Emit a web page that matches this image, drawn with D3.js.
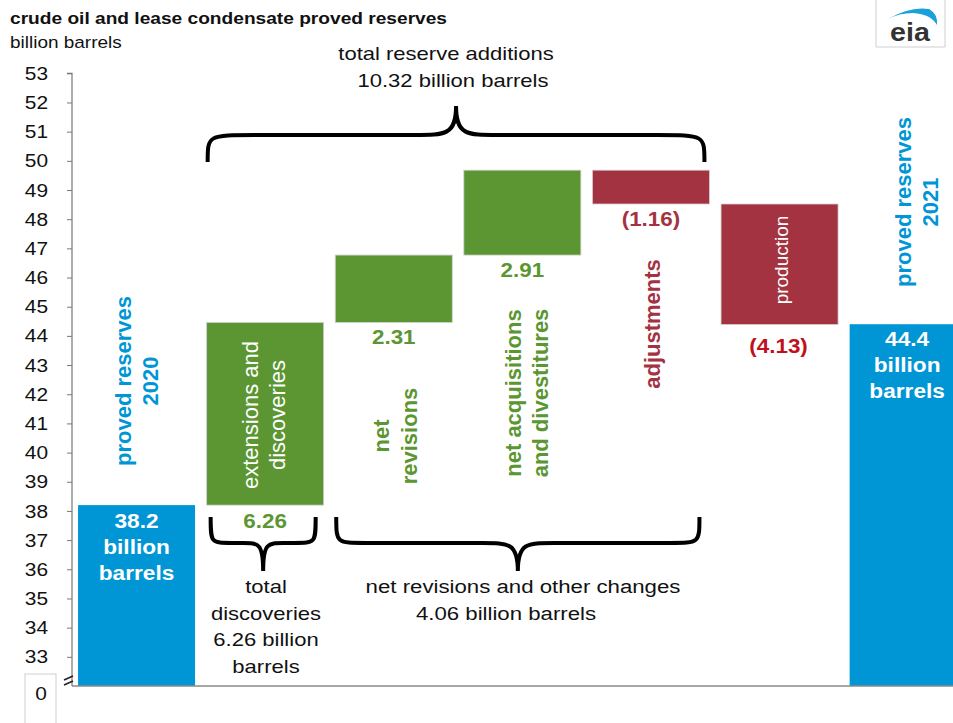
<!DOCTYPE html>
<html>
<head>
<meta charset="utf-8">
<script src="https://cdn.jsdelivr.net/npm/d3@7/dist/d3.min.js"></script>
<style>
  html, body { margin: 0; padding: 0; background: #fff; }
  svg { display: block; font-family: "Liberation Sans", Arial, sans-serif; }
</style>
</head>
<body>
<svg id="chart" width="953" height="723"></svg>
<script>
// ---- data ----
const categories = ["proved reserves 2020", "extensions and discoveries", "net revisions",
  "net acquisitions and divestitures", "adjustments", "production", "proved reserves 2021"];
const values = [38.2, 6.26, 2.31, 2.91, -1.16, -4.13, 44.4];
const kinds = ["total", "change", "change", "change", "change", "change", "total"];
const valueLabels = ["38.2", "6.26", "2.31", "2.91", "(1.16)", "(4.13)", "44.4"];
const yTicks = [33, 34, 35, 36, 37, 38, 39, 40, 41, 42, 43, 44, 45, 46, 47, 48, 49, 50, 51, 52, 53];
const yDomain = [32, 53];

const BLUE = "#0096d6", GREEN = "#5b9632", RED = "#a33341", DARKRED = "#c0101c";
const FONT = '"Liberation Sans", Arial, sans-serif';

const svg = d3.select("#chart");

const y = d3.scaleLinear().domain(yDomain).range([686, 73.3]);
const x = d3.scaleBand().domain(categories).range([72, 972.7]).paddingInner(0.09).paddingOuter(0.047);
const bw = x.bandwidth();

// compute waterfall segments
let running = 0;
const bars = categories.map((c, i) => {
  let lo, hi;
  if (kinds[i] === "total") { lo = yDomain[0]; hi = values[i]; running = values[i]; }
  else { const s = running; running = s + values[i]; lo = Math.min(s, running); hi = Math.max(s, running); }
  const color = kinds[i] === "total" ? BLUE : (values[i] >= 0 ? GREEN : RED);
  return { c, i, lo, hi, color, v: values[i] };
});

// bars
svg.append("g").selectAll("rect").data(bars).join("rect")
  .attr("x", d => x(d.c))
  .attr("y", d => y(d.hi))
  .attr("width", bw)
  .attr("height", d => y(d.lo) - y(d.hi))
  .attr("fill", d => d.color)
  .attr("stroke", d => d.color === BLUE ? "none" : "#d0d0d0")
  .attr("stroke-width", 0.8);

// baseline
svg.append("line").attr("x1", 72).attr("x2", 953).attr("y1", y(32)).attr("y2", y(32))
  .attr("stroke", "#8a8a8a").attr("stroke-width", 1.5);

// y axis
const yAxis = d3.axisLeft(y).tickValues(yTicks).tickSize(5).tickSizeOuter(5).tickPadding(15).tickFormat(d3.format("d"));
const ga = svg.append("g").attr("transform", "translate(72,0)").call(yAxis);
ga.selectAll("path.domain").attr("stroke", "#777").attr("stroke-width", 1.2)
  .attr("d", `M-5,${y(53)}H0V${y(32)}`);
ga.selectAll(".tick line").attr("stroke", "#777");
ga.selectAll(".tick text").attr("font-size", 19).attr("font-family", FONT).attr("fill", "#111")
  .attr("transform", function () { const tx = +d3.select(this).attr("x"); return `translate(${tx * 0.1},0) scale(1.1,1)`; });

// axis break marks
svg.append("path").attr("d", "M64,680 L73,676 M64,685 L73,681")
  .attr("stroke", "#222").attr("stroke-width", 1.6).attr("fill", "none");
// zero label box
svg.append("rect").attr("x", 25).attr("y", 674).attr("width", 31).attr("height", 52)
  .attr("fill", "#fff").attr("stroke", "#cfcfcf");

// helper: horizontally stretched text
function sText(x0, y0, t, opts) {
  return svg.append("text")
    .attr("transform", `translate(${x0},${y0}) scale(${opts.sx || 1},1)`)
    .attr("text-anchor", opts.anchor || "middle")
    .attr("font-size", opts.size).attr("font-weight", opts.weight || "normal")
    .attr("fill", opts.fill).text(t);
}
sText(41, 700, "0", { size: 19, fill: "#111", sx: 1.1 });

// title
sText(10, 24, "crude oil and lease condensate proved reserves", { size: 16.5, weight: "bold", fill: "#111", anchor: "start", sx: 1.16 });
sText(10, 48, "billion barrels", { size: 16.5, fill: "#111", anchor: "start", sx: 1.15 });

// eia logo
const logo = svg.append("g");
logo.append("path").attr("d", "M876,0 V47 H945 V0").attr("fill", "none").attr("stroke", "#cfcfcf");
logo.append("path").attr("d", "M888,19 Q910,6 929,9 Q938,14 937,25 Q931,14 913,13 Q899,13 888,19 Z")
  .attr("fill", "#1aa0dc");
sText(910, 41, "eia", { size: 26, weight: "bold", fill: "#333", sx: 1.1 });

// helper for centered multi-line text
function multiText(cx, ys, lines, opts) {
  lines.forEach((t, k) => sText(cx, ys[k], t, opts));
}
// rotated multi-line text: centered at (cx, cy), lines offset horizontally
function rotText(cx, cy, lines, dx, opts) {
  const g = svg.append("g").attr("transform", `translate(${cx},${cy}) rotate(-90)`);
  const n = lines.length;
  lines.forEach((t, k) => {
    g.append("text").attr("x", 0).attr("y", (k - (n - 1) / 2) * dx)
      .attr("text-anchor", "middle").attr("dominant-baseline", "central")
      .attr("font-size", opts.size).attr("font-weight", opts.weight || "normal")
      .attr("fill", opts.fill).text(t);
  });
}

const cxOf = i => x(categories[i]) + bw / 2;

// value labels
multiText(cxOf(0), [y(38.2) + 23, y(38.2) + 49, y(38.2) + 75], [valueLabels[0], "billion", "barrels"],
  { size: 21, weight: "bold", fill: "#fff", sx: 1.08 });
multiText(cxOf(6) - 1, [y(44.4) + 22, y(44.4) + 48, y(44.4) + 74], [valueLabels[6], "billion", "barrels"],
  { size: 21, weight: "bold", fill: "#fff", sx: 1.08 });
multiText(cxOf(1), [y(bars[1].lo) + 23], [valueLabels[1]], { size: 20, weight: "bold", fill: GREEN, sx: 1.12 });
multiText(cxOf(2), [y(bars[2].lo) + 22], [valueLabels[2]], { size: 20, weight: "bold", fill: GREEN, sx: 1.12 });
multiText(cxOf(3), [y(bars[3].lo) + 22], [valueLabels[3]], { size: 20, weight: "bold", fill: GREEN, sx: 1.12 });
multiText(cxOf(4), [y(bars[4].lo) + 22], [valueLabels[4]], { size: 20, weight: "bold", fill: RED, sx: 1.12 });
multiText(cxOf(5) - 1, [y(bars[5].lo) + 28], [valueLabels[5]], { size: 20, weight: "bold", fill: DARKRED, sx: 1.12 });

// rotated category labels
rotText(cxOf(0), 381, ["proved  reserves", "2020"], 27, { size: 22, weight: "bold", fill: BLUE });
rotText(cxOf(1) - 1, 415, ["extensions and", "discoveries"], 27, { size: 22, fill: "#fff" });
rotText(cxOf(2) + 2, 436, ["net", "revisions"], 28, { size: 22, weight: "bold", fill: GREEN });
rotText(cxOf(3) + 5, 393, ["net acquisitions", "and divestitures"], 27, { size: 22, weight: "bold", fill: GREEN });
rotText(cxOf(4) + 2, 324, ["adjustments"], 27, { size: 22, weight: "bold", fill: RED });
rotText(cxOf(5) + 2, 260, ["production"], 27, { size: 19, fill: "#fff" });
rotText(cxOf(6) + 9, 202, ["proved reserves", "2021"], 27, { size: 22, weight: "bold", fill: BLUE });

// braces
function brace(x1, x2, yEnd, yMid, yTip, r1, r2) {
  const xm = (x1 + x2) / 2;
  return `M${x1},${yEnd} C${x1},${yMid} ${x1},${yMid} ${x1 + r1},${yMid} ` +
    `L${xm - r2},${yMid} C${xm - r2 * 0.25},${yMid} ${xm},${yMid} ${xm},${yTip} ` +
    `C${xm},${yMid} ${xm + r2 * 0.25},${yMid} ${xm + r2},${yMid} ` +
    `L${x2 - r1},${yMid} C${x2},${yMid} ${x2},${yMid} ${x2},${yEnd}`;
}
const bg = svg.append("g").attr("fill", "none").attr("stroke", "#000").attr("stroke-width", 4)
  .attr("stroke-linecap", "butt");
bg.append("path").attr("d", brace(x(categories[1]) + 1, x(categories[4]) + bw - 5, 162, 135, 106, 48, 42));
bg.append("path").attr("d", brace(x(categories[1]) + 4, x(categories[1]) + bw - 8, 517, 543, 571, 22, 20));
bg.append("path").attr("d", brace(x(categories[2]) + 1, x(categories[4]) + bw - 10, 517, 543, 571, 30, 36));

// annotation texts
multiText(446, [60], ["total reserve additions"], { size: 19, fill: "#111", sx: 1.16 });
multiText(453, [87], ["10.32 billion barrels"], { size: 19, fill: "#111", sx: 1.16 });
multiText(266, [593, 620, 646, 673], ["total", "discoveries", "6.26 billion", "barrels"], { size: 19, fill: "#111", sx: 1.16 });
multiText(523, [593], ["net revisions and other changes"], { size: 19, fill: "#111", sx: 1.17 });
multiText(506, [620], ["4.06 billion barrels"], { size: 19, fill: "#111", sx: 1.17 });
</script>
</body>
</html>
